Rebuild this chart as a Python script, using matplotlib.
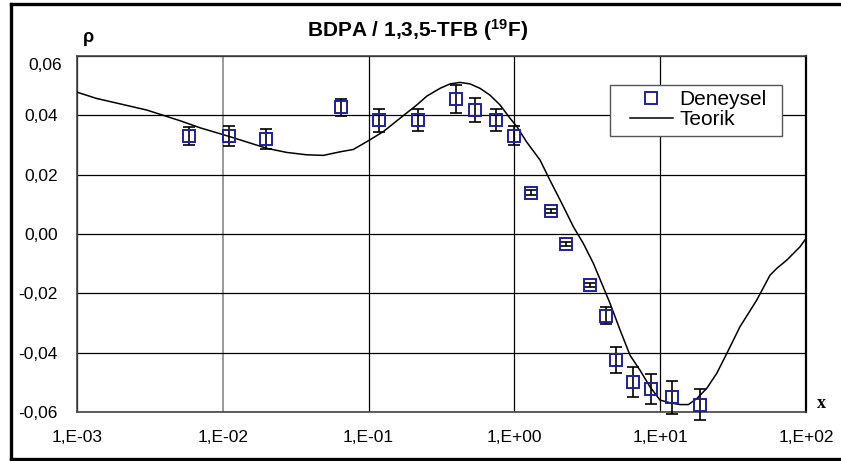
import matplotlib
matplotlib.use('Agg')
import matplotlib.pyplot as plt
from matplotlib.lines import Line2D
from matplotlib.patches import Rectangle

plt.rcParams['font.family'] = ['Liberation Sans', 'DejaVu Sans']
plt.rcParams['mathtext.fontset'] = 'custom'
plt.rcParams['mathtext.rm'] = 'Liberation Sans'
plt.rcParams['mathtext.bf'] = 'Liberation Sans:bold'

# measured points (Deneysel)
x_exp = [0.00583, 0.0111, 0.0198, 0.0644, 0.118, 0.218, 0.395, 0.537, 0.748, 0.993,
         1.29, 1.78, 2.25, 3.30, 4.25, 4.97, 6.53, 8.69, 12.1, 18.7]
y_exp = [0.0330, 0.0330, 0.0321, 0.0427, 0.0384, 0.0384, 0.0455, 0.0418, 0.0384, 0.0331,
         0.0139, 0.0078, -0.0033, -0.0173, -0.0276, -0.0425, -0.0498, -0.0522, -0.0551, -0.0575]
y_err = [0.0031, 0.0035, 0.0034, 0.0028, 0.0039, 0.0038, 0.0046, 0.0040, 0.0036, 0.0032,
         0.0008, 0.0006, 0.0006, 0.0007, 0.0029, 0.0044, 0.0050, 0.0051, 0.0056, 0.0051]

# theoretical curve (Teorik)
x_th = [0.001, 0.00136, 0.0030, 0.00508, 0.00698, 0.0112, 0.0200, 0.0274, 0.0376, 0.0489,
        0.0637, 0.0785, 0.0970, 0.126, 0.164, 0.214, 0.251, 0.309, 0.362, 0.424,
        0.496, 0.581, 0.680, 0.797, 0.933, 1.04, 1.21, 1.50, 1.75, 2.06,
        2.54, 2.97, 3.48, 4.53, 5.30, 6.21, 7.26, 8.51, 9.97, 11.7,
        13.7, 15.6, 17.8, 20.8, 24.4, 28.6, 35.2, 45.9, 56.6, 63.0,
        73.8, 91.0, 100.0]
y_th = [0.0478, 0.0457, 0.0418, 0.0382, 0.0358, 0.0328, 0.0289, 0.0275, 0.0267, 0.0265,
        0.0277, 0.0285, 0.0311, 0.0345, 0.0390, 0.0435, 0.0465, 0.0491, 0.0506, 0.0511,
        0.0506, 0.0491, 0.0468, 0.0435, 0.0390, 0.0362, 0.0311, 0.0249, 0.0182, 0.0114,
        0.0024, -0.0032, -0.0099, -0.0234, -0.0323, -0.0409, -0.0459, -0.0515, -0.0560, -0.0569,
        -0.0575, -0.0575, -0.0555, -0.0521, -0.0470, -0.0403, -0.0313, -0.0223, -0.0139, -0.0116,
        -0.0088, -0.0043, -0.0015]

x_ticks = [1e-3, 1e-2, 1e-1, 1e0, 1e1, 1e2]
x_labels = ['1,E-03', '1,E-02', '1,E-01', '1,E+00', '1,E+01', '1,E+02']
y_ticks = [-0.06, -0.04, -0.02, 0.00, 0.02, 0.04, 0.06]
y_labels = ['-0,06', '-0,04', '-0,02', '0,00', '0,02', '0,04', '0,06']

fig = plt.figure(figsize=(8.41, 4.61), dpi=100)
ax = fig.add_axes([0.0916, 0.1063, 0.8668, 0.7722])

th_line, = ax.plot(x_th, y_th, color='black', lw=1.1, label='Teorik', zorder=3)
ax.errorbar(x_exp, y_exp, yerr=y_err, fmt='none', ecolor='black', elinewidth=1.2,
            capsize=4, capthick=1.2, zorder=4, clip_on=False)
pts, = ax.plot(x_exp, y_exp, 's', mfc='none', mec='#1f1f9c', mew=1.4, ms=8.5,
               ls='none', label='Deneysel', zorder=5, clip_on=False)

ax.set_xscale('log')
ax.set_xlim(1e-3, 1e2)
ax.set_ylim(-0.06, 0.06)
ax.set_xticks(x_ticks)
ax.set_xticklabels(x_labels)
ax.minorticks_off()
ax.set_yticks(y_ticks)
# top label is drawn a bit lower by hand, like the original
ax.set_yticklabels(y_labels[:-1] + [''])
ax.text(-0.0206, 0.9728, y_labels[-1], transform=ax.transAxes, ha='right', va='center',
        fontsize=12.5)
ax.tick_params(length=0, labelsize=12.5, pad=13)
ax.tick_params(axis='y', pad=14)
ax.grid(True, color='black', lw=0.9)
ax.get_xgridlines()[1].set_color('#888888')
ax.get_xgridlines()[1].set_linewidth(1.2)
for s in ax.spines.values():
    s.set_color('#444444')
    s.set_linewidth(1.2)
ax.spines['right'].set_color('black')
ax.spines['right'].set_linewidth(1.6)

# legend: frame drawn separately so the padding matches
ax.add_patch(Rectangle((0.731, 0.775), 0.236, 0.143, transform=ax.transAxes,
                       facecolor='white', edgecolor='#555555', lw=1.0, zorder=6))
leg = ax.legend(handles=[pts, th_line], loc='upper left', bbox_to_anchor=(0.758, 0.905),
                fontsize=15, frameon=False, borderpad=0, labelspacing=0.05,
                handlelength=2.1, handletextpad=0.3, borderaxespad=0)
leg.set_zorder(7)

fig.text(0.4964, 0.934, r'BDPA / 1,3,5-TFB ($\mathbf{^{19}}$F)', ha='center', va='center',
         fontsize=15, fontweight='bold')
fig.text(88 / 841, 1 - 37 / 461, 'ρ', ha='center', va='center', fontsize=13, fontweight='bold')
fig.text(821 / 841, 1 - 403 / 461, 'x', ha='center', va='center', fontsize=13,
         fontweight='bold', family='Liberation Serif')

# outer frame
for xs, ys in [([11 / 841, 11 / 841], [2 / 461, 457 / 461]),
               ([11 / 841, 1.0], [457 / 461, 457 / 461]),
               ([11 / 841, 1.0], [2 / 461, 2 / 461])]:
    fig.add_artist(Line2D(xs, ys, color='black', lw=2.4))

fig.savefig('out.png', dpi=100)
